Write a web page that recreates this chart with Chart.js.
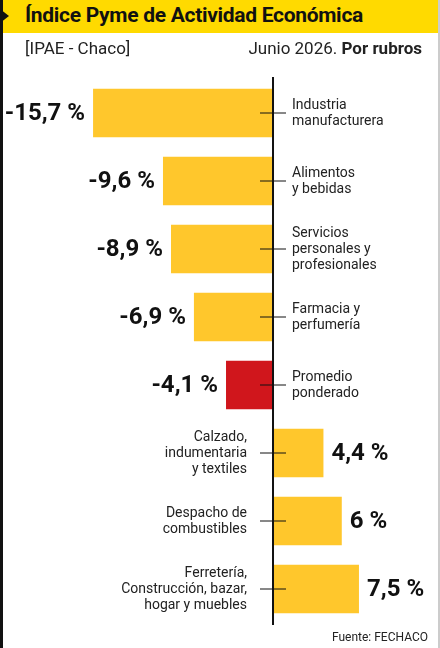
<!DOCTYPE html>
<html><head><meta charset="utf-8">
<script src="https://cdn.jsdelivr.net/npm/chart.js@4"></script>
<style>
html,body{margin:0;padding:0;background:#fff;}
#wrap{position:relative;width:440px;height:648px;overflow:hidden;font-family:Roboto,sans-serif;}
#head{position:absolute;left:0;top:0;width:440px;height:33px;background:#FFDA00;}
#head span{position:absolute;left:25px;top:3px;font-weight:bold;font-size:21px;color:#111;letter-spacing:-0.3px;}
#tri{position:absolute;left:0;top:9px;width:0;height:0;border-top:7px solid transparent;border-bottom:7px solid transparent;border-left:9px solid #111;}
#lstrip{position:absolute;left:0;top:0;width:3px;height:648px;background:#111;}
#rb{position:absolute;right:0;top:0;width:2px;height:648px;background:#ccc;}
#sub1{position:absolute;left:25px;top:38px;font-size:17px;color:#222;}
#sub2{position:absolute;right:18px;top:38px;font-size:17px;color:#222;}
#src{position:absolute;right:12px;top:630px;font-size:12px;color:#222;}
canvas{position:absolute;left:0;top:0;}
</style></head><body>
<div id="wrap">
<canvas id="c" width="440" height="648"></canvas>
<div id="head"><span>Índice Pyme de Actividad Económica</span></div>
<div id="tri"></div><div id="lstrip"></div><div id="rb"></div>
<div id="sub1">[IPAE - Chaco]</div>
<div id="sub2">Junio 2026. <b>Por rubros</b></div>
<div id="src">Fuente: FECHACO</div>
</div>
<script>
const categories=[["Industria","manufacturera"],["Alimentos","y bebidas"],["Servicios","personales y","profesionales"],["Farmacia y","perfumería"],["Promedio","ponderado"],["Calzado,","indumentaria","y textiles"],["Despacho de","combustibles"],["Ferretería,","Construcción, bazar,","hogar y muebles"]];
const values=[-15.7,-9.6,-8.9,-6.9,-4.1,4.4,6,7.5];
const valueLabels=["-15,7 %","-9,6 %","-8,9 %","-6,9 %","-4,1 %","4,4 %","6 %","7,5 %"];
const colors=values.map((v,i)=>i===4?"#D0161C":"#FFC72C");
const deco={id:'deco',afterDatasetsDraw(ch){
 const ctx=ch.ctx,x=ch.scales.x,y=ch.scales.y,z=x.getPixelForValue(0);
 ctx.save();
 ctx.strokeStyle="#111";ctx.lineWidth=2;
 ctx.beginPath();ctx.moveTo(z,ch.chartArea.top-2);ctx.lineTo(z,ch.chartArea.bottom+2);ctx.stroke();
 ctx.lineWidth=1;
 const meta=ch.getDatasetMeta(0);
 values.forEach((v,i)=>{
  const yc=y.getPixelForValue(i);const bx=x.getPixelForValue(v);
  ctx.beginPath();ctx.moveTo(z-13,yc);ctx.lineTo(z+13,yc);ctx.stroke();
  ctx.fillStyle="#111";ctx.font="bold 24px Roboto";ctx.textBaseline="middle";
  if(v<0){ctx.textAlign="right";ctx.fillText(valueLabels[i],bx-8,yc+1);}
  else{ctx.textAlign="left";ctx.fillText(valueLabels[i],bx+8,yc+1);}
  ctx.font="14px Roboto";ctx.fillStyle="#222";
  const L=categories[i],lh=16,y0=yc-(L.length-1)*lh/2;
  L.forEach((t,k)=>{
   if(v<0){ctx.textAlign="left";ctx.fillText(t,z+19,y0+k*lh);}
   else{ctx.textAlign="right";ctx.fillText(t,z-26,y0+k*lh);}
  });
 });
 ctx.restore();
}};
new Chart(document.getElementById('c'),{
 type:'bar',
 data:{labels:categories.map(c=>c.join(' ')),datasets:[{data:values,backgroundColor:colors,borderWidth:0,barPercentage:0.71,categoryPercentage:1}]},
 options:{indexAxis:'y',responsive:false,animation:false,
  layout:{padding:{top:79,bottom:25,left:0,right:0}},
  plugins:{legend:{display:false},tooltip:{enabled:false}},
  scales:{x:{display:false,min:-23.82,max:14.57},y:{display:false}}},
 plugins:[deco]});
</script>
</body></html>
